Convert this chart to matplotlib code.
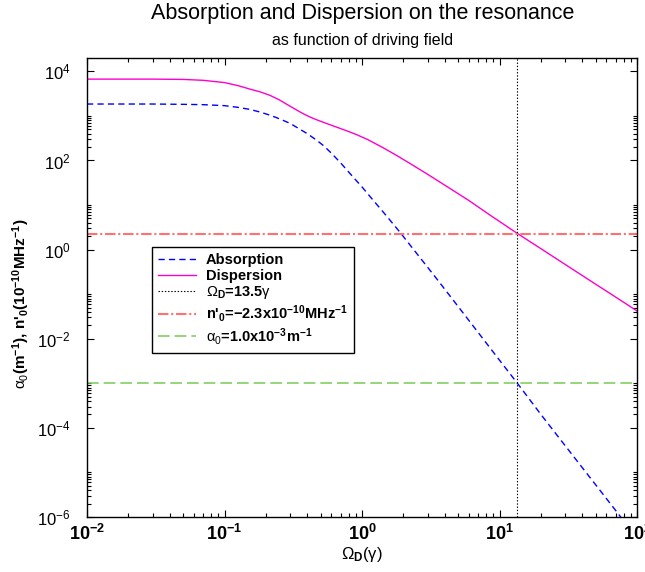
import numpy as np
import matplotlib
matplotlib.use("Agg")
import matplotlib.pyplot as plt
from matplotlib.ticker import FixedLocator, NullFormatter

plt.rcParams.update({
    "font.family": ["Liberation Sans", "DejaVu Sans"],
    "mathtext.fontset": "custom",
    "mathtext.rm": "Liberation Sans",
    "mathtext.it": "Liberation Sans",
    "mathtext.bf": "Liberation Sans:bold",
    "lines.scale_dashes": False,
})

# data
omega_abs = [0.01, 0.03, 0.05, 0.07, 0.1, 0.125, 0.153, 0.18, 0.21, 0.24, 0.268, 0.30, 0.34, 0.40,
             0.468, 0.53, 0.6, 0.7, 0.818, 1.0, 1.175, 1.5, 1.9, 2.5, 3.5, 5.0, 7.0, 10.0, 13.5,
             20.0, 30.0, 50.0, 70.0, 100.0]
absorption = [1850, 1850, 1820, 1790, 1700, 1560, 1400, 1230, 1060, 910, 790, 680, 540, 400,
              285, 210, 145, 88, 51, 25.5, 14.1, 5.8, 2.4, 0.82, 0.22, 0.053, 0.0138, 3.3e-3, 1.0e-3,
              2.0e-4, 4.0e-5, 5.3e-6, 1.4e-6, 3.3e-7]

omega_disp = [0.01, 0.03, 0.05, 0.07, 0.1, 0.125, 0.153, 0.18, 0.214, 0.25, 0.30, 0.34, 0.374, 0.42,
              0.468, 0.55, 0.654, 0.78, 0.914, 1.1, 1.43, 1.8, 2.23, 3.0, 4.37, 6.0, 8.5, 13.5,
              20.0, 30.0, 45.0, 70.0, 100.0]
dispersion = [6700, 6700, 6600, 6300, 5600, 4800, 4000, 3500, 2900, 2300, 1650, 1320, 1120, 940,
              820, 680, 560, 460, 380, 295, 192, 128, 86, 49, 23.5, 12.6, 6.0, 2.3,
              1.05, 0.466, 0.207, 0.086, 0.042]

omega_d = 13.5
n0_level = 2.3
alpha0_level = 1.0e-3

fig = plt.figure(figsize=(6.45, 5.72), dpi=100)
ax = fig.add_axes([87/645, 55/572, 550/645, 459/572])

ax.plot(omega_abs, absorption, color="#0000ff", lw=1.0, dashes=(4.5, 3),
        label="Absorption")
ax.plot(omega_disp, dispersion, color="#ff00cc", lw=1.0, label="Dispersion")
ax.axvline(omega_d, color="black", lw=0.8, dashes=(1, 1.3),
           label=r"$\Omega_\mathbf{D}$=13.5$\gamma$")
ax.axhline(n0_level, color="#ff7070", lw=1.5, dashes=(7.5, 2, 1.5, 2),
           label=r"n'$_\mathbf{0}$=−2.3x10$^\mathbf{-10}$MHz$^\mathbf{-1}$")
ax.axhline(alpha0_level, color="#77cc55", lw=1.1, dashes=(8.4, 3.6),
           label=r"$\alpha_0$=1.0x10$^\mathbf{-3}$m$^\mathbf{-1}$")

ax.set_xscale("log")
ax.set_yscale("log")
ax.set_xlim(1e-2, 1e2)
ax.set_ylim(1e-6, 10**4.3)

# gnuplot-like ticks
xmaj = [1e-2, 1e-1, 1e0, 1e1, 1e2]
ax.xaxis.set_major_locator(FixedLocator(xmaj))
ax.xaxis.set_minor_locator(FixedLocator([m*10.0**e for e in range(-2, 2) for m in range(2, 10)]))
ax.set_xticklabels([r"$\mathbf{10^{-2}}$", r"$\mathbf{10^{-1}}$", r"$\mathbf{10^{0}}$",
                    r"$\mathbf{10^{1}}$", r"$\mathbf{10^{2}}$"], fontsize=13)

ymaj = [1e-6, 1e-4, 1e-2, 1e0, 1e2, 1e4]
ax.yaxis.set_major_locator(FixedLocator(ymaj))
ax.yaxis.set_minor_locator(FixedLocator([m*10.0**e for e in range(-6, 5, 2) for m in range(2, 11)]))
ax.set_yticklabels([r"$10^{-6}$", r"$10^{-4}$", r"$10^{-2}$", r"$10^{0}$",
                    r"$10^{2}$", r"$10^{4}$"], fontsize=12)
ax.yaxis.set_minor_formatter(NullFormatter())
ax.xaxis.set_minor_formatter(NullFormatter())

ax.tick_params(which="both", direction="in", top=True, right=True, width=0.8)
ax.tick_params(which="major", length=5)
ax.tick_params(which="minor", length=2.7)
ax.tick_params(axis="x", which="major", pad=5)
ax.tick_params(axis="y", which="major", pad=12)
for s in ax.spines.values():
    s.set_linewidth(1.0)

ax.set_xlabel(r"$\Omega_\mathbf{D}(\gamma)$", fontsize=12, labelpad=1)
ax.set_ylabel(r"$\alpha_0$(m$^\mathbf{-1}$), n'$_\mathbf{0}$(10$^\mathbf{-10}$MHz$^\mathbf{-1}$)",
              fontsize=11, fontweight="bold")
ax.yaxis.set_label_coords(-0.10, 0.464)

fig.text(0.5616, 1 - 13/572, "Absorption and Dispersion on the resonance",
         ha="center", va="center", fontsize=15.5)
fig.text(0.5616, 1 - 40/572, "as function of driving field",
         ha="center", va="center", fontsize=11.5)

leg = ax.legend(loc="upper left", bbox_to_anchor=(0.118, 0.588), borderaxespad=0,
                prop={"weight": "bold", "size": 10.5}, handlelength=2.6,
                handletextpad=0.7, fancybox=False, framealpha=1, edgecolor="black",
                borderpad=0.4, labelspacing=0.12)
leg.get_frame().set_linewidth(1.0)

fig.savefig("out.png", dpi=100)
